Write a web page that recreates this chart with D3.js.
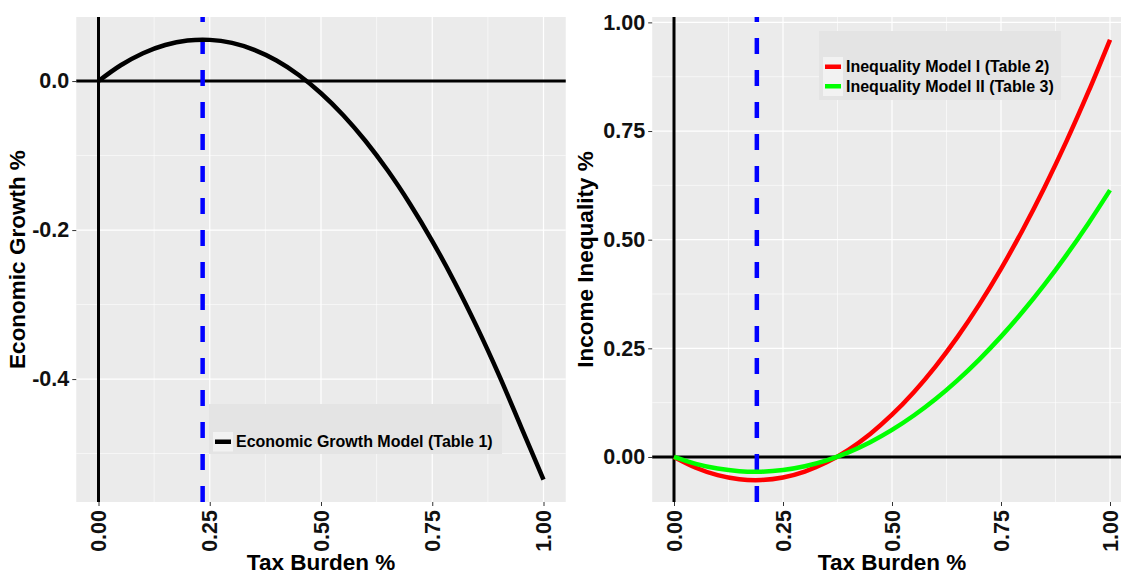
<!DOCTYPE html>
<html>
<head>
<meta charset="utf-8">
<script src="https://cdn.jsdelivr.net/npm/d3@7"></script>
<style>
  html, body { margin: 0; padding: 0; background: #fff; }
  svg { display: block; font-family: "Liberation Sans", Arial, sans-serif; }
</style>
</head>
<body>
<svg id="chart" width="1121" height="576"></svg>
<script>
// ---------- data ----------
const taxBurden = [0, 0.05, 0.1, 0.15, 0.2, 0.25, 0.3, 0.35, 0.4, 0.45, 0.5,
                   0.55, 0.6, 0.65, 0.7, 0.75, 0.8, 0.85, 0.9, 0.95, 1.0];
const growthModel = [0, 0.0212, 0.0374, 0.0484, 0.0544, 0.0553, 0.0512, 0.0419, 0.0276, 0.0082, -0.0163,
                     -0.0458, -0.0804, -0.1201, -0.1649, -0.2147, -0.2696, -0.3296, -0.3947, -0.4648, -0.535];
const inequalityModelI = [0, -0.0247, -0.0418, -0.0512, -0.0530, -0.0471, -0.0335, -0.0123, 0.0166, 0.0531, 0.0973,
                          0.1491, 0.2086, 0.2757, 0.3505, 0.4329, 0.5230, 0.6208, 0.7262, 0.8393, 0.960];
const inequalityModelII = [0, -0.0158, -0.0267, -0.0327, -0.0338, -0.0301, -0.0214, -0.0078, 0.0106, 0.0340, 0.0623,
                           0.0954, 0.1334, 0.1764, 0.2242, 0.2769, 0.3346, 0.3971, 0.4645, 0.5368, 0.614];
const growthOptimum = 0.234;
const inequalityOptimum = 0.19;

const xTicks = [0, 0.25, 0.5, 0.75, 1.0];
const xTickLabels = ["0.00", "0.25", "0.50", "0.75", "1.00"];
const leftYTicks = [0, -0.2, -0.4];
const leftYTickLabels = ["0.0", "-0.2", "-0.4"];
const rightYTicks = [0, 0.25, 0.5, 0.75, 1.0];
const rightYTickLabels = ["0.00", "0.25", "0.50", "0.75", "1.00"];

const xTitle = "Tax Burden %";
const leftYTitle = "Economic Growth %";
const rightYTitle = "Income Inequality %";
const leftLegend = [{ label: "Economic Growth Model (Table 1)", color: "#000000" }];
const rightLegend = [{ label: "Inequality Model I (Table 2)", color: "#FF0000" },
                     { label: "Inequality Model II (Table 3)", color: "#00FF00" }];

// ---------- drawing ----------
const svg = d3.select("#chart");
svg.append("rect").attr("width", 1121).attr("height", 576).attr("fill", "#fff");

function midpoints(arr, lo, hi) {
  const s = arr.slice().sort((a, b) => a - b);
  const step = s[1] - s[0];
  const out = [];
  for (let v = s[0] - step / 2; v <= hi; v += step) if (v >= lo) out.push(+v.toFixed(6));
  return out;
}

function panel(opt) {
  const g = svg.append("g");
  const x = d3.scaleLinear().domain([-0.05, 1.05]).range([opt.left, opt.right]);
  const y = d3.scaleLinear().domain(opt.yDomain).range([opt.bottom, opt.top]);

  g.append("rect").attr("x", opt.left).attr("y", opt.top)
    .attr("width", opt.right - opt.left).attr("height", opt.bottom - opt.top)
    .attr("fill", "#EBEBEB");

  const [ylo, yhi] = opt.yDomain;
  // minor grid
  midpoints(xTicks, -0.05, 1.05).forEach(v => {
    g.append("line").attr("x1", x(v)).attr("x2", x(v)).attr("y1", opt.top).attr("y2", opt.bottom)
      .attr("stroke", "#fff").attr("stroke-width", 0.6);
  });
  midpoints(opt.yTicks, ylo, yhi).forEach(v => {
    g.append("line").attr("y1", y(v)).attr("y2", y(v)).attr("x1", opt.left).attr("x2", opt.right)
      .attr("stroke", "#fff").attr("stroke-width", 0.6);
  });
  // major grid
  xTicks.forEach(v => {
    g.append("line").attr("x1", x(v)).attr("x2", x(v)).attr("y1", opt.top).attr("y2", opt.bottom)
      .attr("stroke", "#fff").attr("stroke-width", 1.2);
  });
  opt.yTicks.forEach(v => {
    g.append("line").attr("y1", y(v)).attr("y2", y(v)).attr("x1", opt.left).attr("x2", opt.right)
      .attr("stroke", "#fff").attr("stroke-width", 1.2);
  });

  // axes
  const yAxis = d3.axisLeft(y).tickValues(opt.yTicks)
    .tickFormat((d, i) => opt.yTickLabels[i]).tickSize(4).tickPadding(3);
  const ya = g.append("g").attr("transform", `translate(${opt.left},0)`).call(yAxis);
  ya.select(".domain").remove();
  ya.selectAll(".tick line").attr("stroke", "#333").attr("stroke-width", 1);
  ya.selectAll(".tick text").attr("font-size", 21.5).attr("font-weight", "bold")
    .attr("fill", "#111").attr("font-family", "Liberation Sans, Arial, sans-serif");

  const xAxis = d3.axisBottom(x).tickValues(xTicks)
    .tickFormat((d, i) => xTickLabels[i]).tickSize(4).tickPadding(3);
  const xa = g.append("g").attr("transform", `translate(0,${opt.bottom})`).call(xAxis);
  xa.select(".domain").remove();
  xa.selectAll(".tick line").attr("stroke", "#333").attr("stroke-width", 1);
  xa.selectAll(".tick text").attr("font-size", 21.5).attr("font-weight", "bold")
    .attr("fill", "#111").attr("font-family", "Liberation Sans, Arial, sans-serif")
    .attr("text-anchor", "end").attr("dy", null).attr("y", 0)
    .attr("dominant-baseline", "central")
    .attr("transform", "translate(0,8) rotate(-90)");

  // axis titles
  g.append("text").attr("x", (opt.left + opt.right) / 2).attr("y", 570)
    .attr("text-anchor", "middle").attr("font-size", 22.5).attr("font-weight", "bold")
    .attr("fill", "#000").text(xTitle);
  g.append("text").attr("transform", `translate(${opt.yTitleX},${(opt.top + opt.bottom) / 2}) rotate(-90)`)
    .attr("text-anchor", "middle").attr("font-size", 22.5).attr("font-weight", "bold")
    .attr("fill", "#000").text(opt.yTitle);

  // reference lines
  g.append("line").attr("x1", opt.left).attr("x2", opt.right).attr("y1", y(0)).attr("y2", y(0))
    .attr("stroke", "#000").attr("stroke-width", 3);
  g.append("line").attr("x1", x(0)).attr("x2", x(0)).attr("y1", opt.bottom).attr("y2", opt.top)
    .attr("stroke", "#000").attr("stroke-width", 3);
  g.append("line").attr("x1", x(opt.optimum)).attr("x2", x(opt.optimum))
    .attr("y1", opt.bottom).attr("y2", opt.top)
    .attr("stroke", "#0000FF").attr("stroke-width", 4.5).attr("stroke-dasharray", "16,16");

  // curves
  const line = d3.line().x((d, i) => x(taxBurden[i])).y(d => y(d)).curve(d3.curveCatmullRom);
  opt.series.forEach(s => {
    g.append("path").attr("d", line(s.values)).attr("fill", "none")
      .attr("stroke", s.color).attr("stroke-width", 4.5).attr("stroke-linejoin", "round");
  });

  // legend
  const L = opt.legend;
  const lg = g.append("g");
  lg.append("rect").attr("x", L.x).attr("y", L.y).attr("width", L.w).attr("height", L.h).attr("fill", "#E4E4E4");
  lg.append("rect").attr("x", L.x + 4).attr("y", L.keyY).attr("width", 20).attr("height", 19.5 * L.items.length)
    .attr("fill", "#F2F2F2");
  L.items.forEach((it, i) => {
    const cy = L.keyY + 9.75 + i * 19.5;
    lg.append("line").attr("x1", L.x + 6).attr("x2", L.x + 22).attr("y1", cy).attr("y2", cy)
      .attr("stroke", it.color).attr("stroke-width", 4.5);
    lg.append("text").attr("x", L.x + 27).attr("y", cy).attr("dominant-baseline", "central")
      .attr("font-size", 16).attr("font-weight", "bold").attr("fill", "#000").text(it.label);
  });
}

panel({
  left: 76.25, right: 565.75, top: 17, bottom: 502,
  yDomain: [-0.565, 0.086],
  yTicks: leftYTicks, yTickLabels: leftYTickLabels,
  yTitle: leftYTitle, yTitleX: 25,
  optimum: growthOptimum,
  series: [{ values: growthModel, color: "#000000" }],
  legend: { x: 209, y: 404, w: 293, h: 50, keyY: 432, items: leftLegend }
});

panel({
  left: 652.2, right: 1131.8, top: 17, bottom: 502,
  yDomain: [-0.1036, 1.0124],
  yTicks: rightYTicks, yTickLabels: rightYTickLabels,
  yTitle: rightYTitle, yTitleX: 593,
  optimum: inequalityOptimum,
  series: [{ values: inequalityModelI, color: "#FF0000" }, { values: inequalityModelII, color: "#00FF00" }],
  legend: { x: 819, y: 31, w: 242, h: 69, keyY: 57, items: rightLegend }
});
</script>
</body>
</html>
